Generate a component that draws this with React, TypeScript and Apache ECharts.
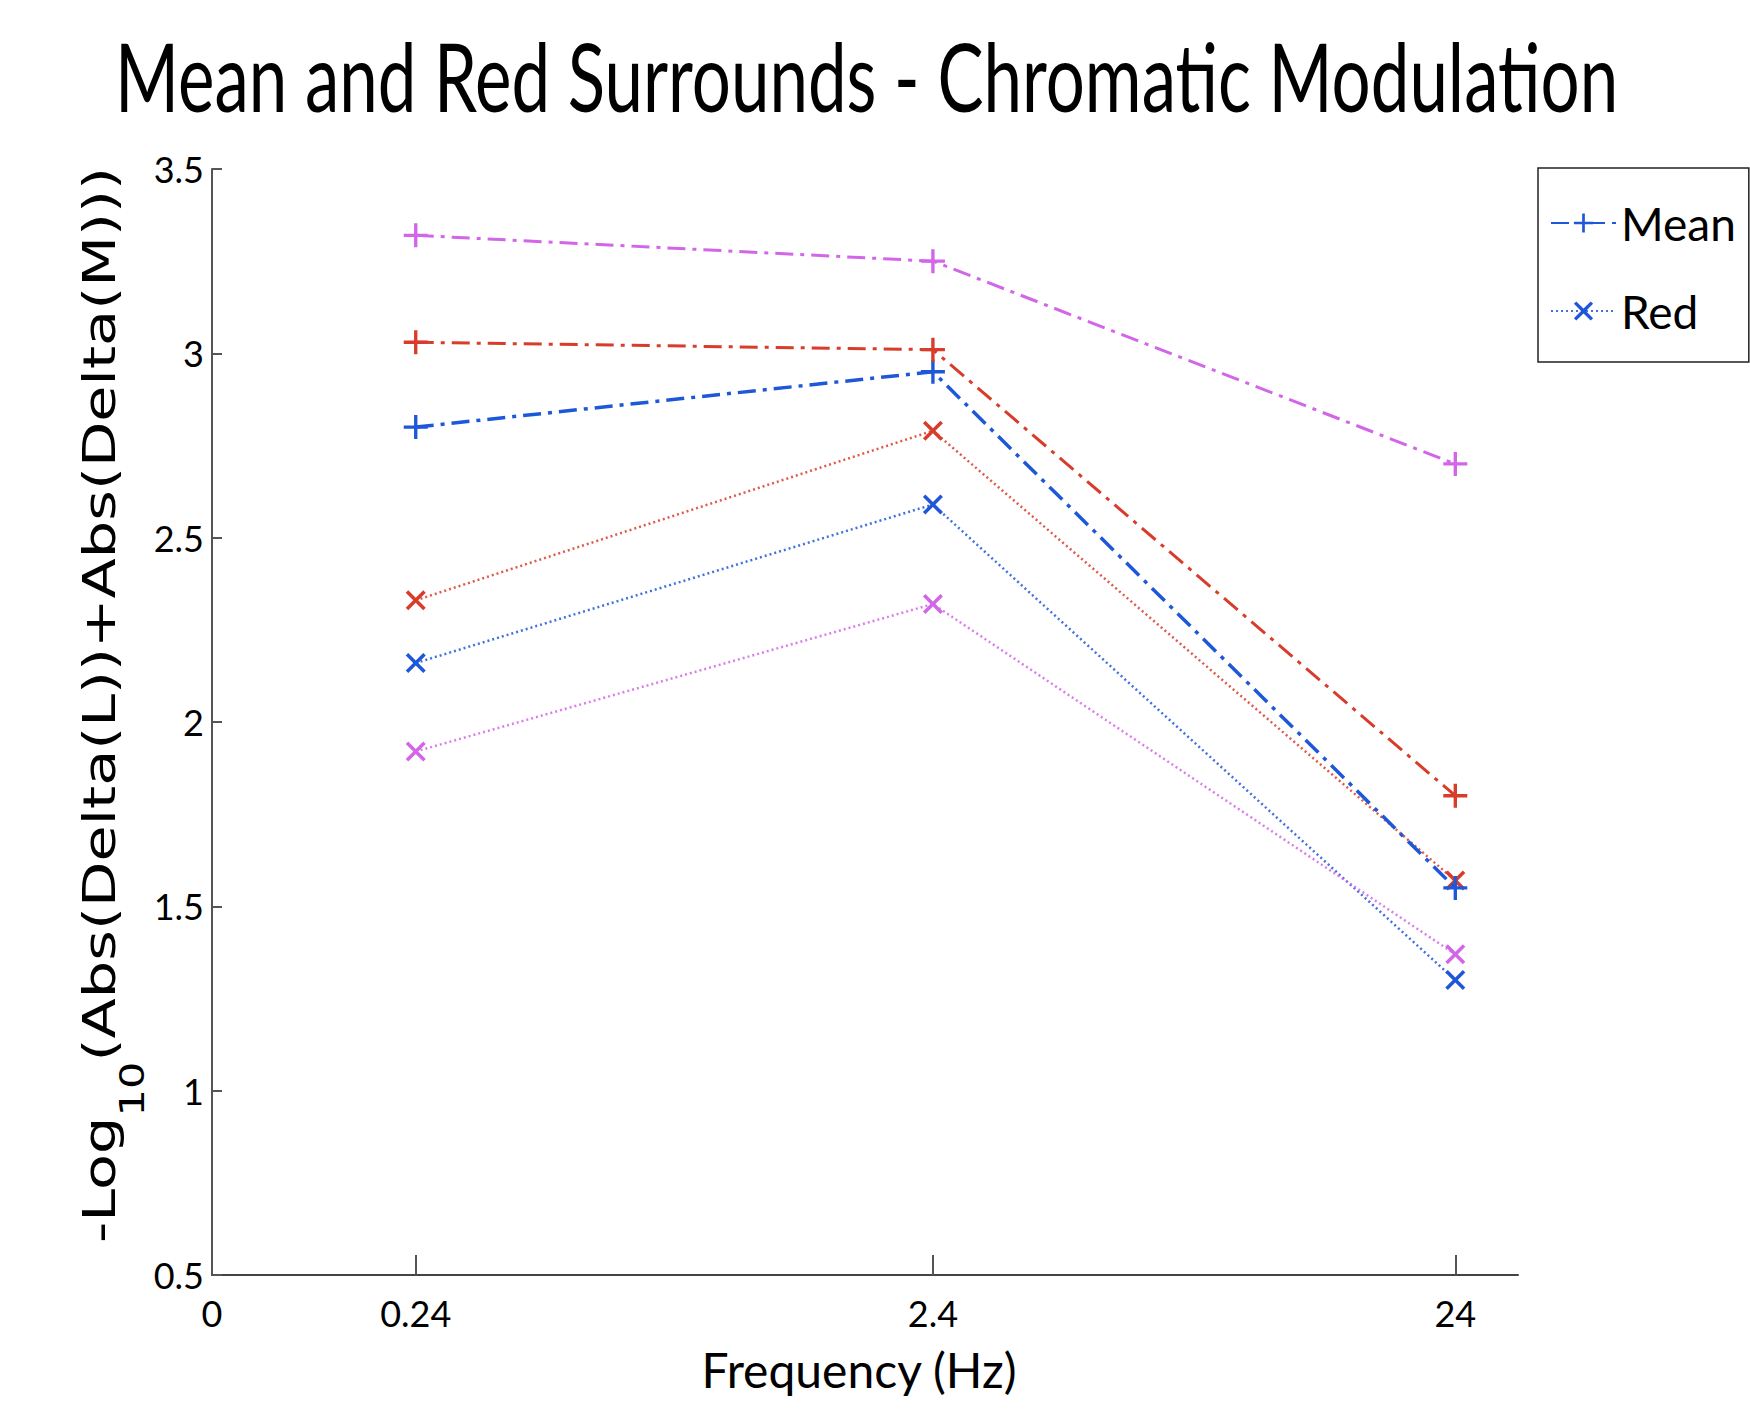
import React, { useEffect, useRef } from "react";
import * as echarts from "echarts";

const titleText = "Mean and Red Surrounds - Chromatic Modulation";
const xName = "Frequency (Hz)";
const yName = "{m|-Log}{sub|10}{m|(Abs(Delta(L))+Abs(Delta(M)))}";

const categories = ["0.24", "2.4", "24"];
const xPositions = [0.39, 1.38, 2.38];
const originLabel = "0";

const meanBlue = [2.8, 2.95, 1.55];
const redBlue = [2.16, 2.59, 1.3];
const meanRed = [3.03, 3.01, 1.8];
const redRed = [2.33, 2.79, 1.57];
const meanMagenta = [3.32, 3.25, 2.7];
const redMagenta = [1.92, 2.32, 1.37];

const BLUE = "#1e58d8";
const RED = "#d83c2a";
const MAGENTA = "#d366e8";

const PLUS =
  "path://M-0.14,-1 L0.14,-1 L0.14,-0.14 L1,-0.14 L1,0.14 L0.14,0.14 L0.14,1 L-0.14,1 L-0.14,0.14 L-1,0.14 L-1,-0.14 L-0.14,-0.14 Z";
const CROSS =
  "path://M-1,-0.75 L-0.75,-1 L0,-0.25 L0.75,-1 L1,-0.75 L0.25,0 L1,0.75 L0.75,1 L0,0.25 L-0.75,1 L-1,0.75 L-0.25,0 Z";

function pairs(vals: number[]) {
  return vals.map((v, i) => [xPositions[i], v]);
}

function plusSeries(name: string, vals: number[], color: string, width: number) {
  return {
    name,
    type: "line",
    data: pairs(vals),
    symbol: PLUS,
    symbolSize: 24,
    itemStyle: { color },
    lineStyle: { color, width, type: [18, 7, 4, 7] },
    z: 3,
  };
}

function crossSeries(name: string, vals: number[], color: string) {
  return {
    name,
    type: "line",
    data: pairs(vals),
    symbol: CROSS,
    symbolSize: 20,
    itemStyle: { color },
    lineStyle: { color, width: 2.5, type: [2, 3], opacity: 0.85 },
    z: 2,
  };
}

export default function App() {
  const ref = useRef<HTMLDivElement>(null);
  useEffect(() => {
    document.body.style.margin = "0";
    if (!ref.current) return;
    const chart = echarts.init(ref.current, undefined, { renderer: "svg" });
    const labelFor = (v: number) => {
      if (Math.abs(v) < 1e-6) return originLabel;
      let best = 0;
      xPositions.forEach((p, i) => {
        if (Math.abs(p - v) < Math.abs(xPositions[best] - v)) best = i;
      });
      return categories[best];
    };
    chart.setOption({
      animation: false,
      backgroundColor: "#fff",
      grid: { left: 212, top: 169, width: 1306, height: 1106 },
      legend: {
        data: ["Mean", "Red"],
        orient: "vertical",
        left: 1538,
        top: 168,
        padding: [30, 13, 26, 12],
        itemGap: 38,
        itemWidth: 65,
        itemHeight: 24,
        borderColor: "#222",
        borderWidth: 1.5,
        borderRadius: 0,
        backgroundColor: "#fff",
        selectedMode: false,
        textStyle: { fontFamily: "Lato", fontSize: 46, color: "#000", lineHeight: 50 },
      },
      xAxis: {
        type: "value",
        min: 0,
        max: 2.5,
        name: xName,
        nameLocation: "middle",
        nameGap: 70,
        nameTextStyle: { fontFamily: "Lato", fontSize: 48, color: "#000", padding: [0, 12, 0, 0] },
        axisLine: { show: true, lineStyle: { color: "#444", width: 2 } },
        axisTick: {
          show: true,
          inside: true,
          length: 20,
          customValues: xPositions,
          lineStyle: { color: "#555", width: 2 },
        },
        axisLabel: {
          customValues: [0, ...xPositions],
          formatter: (v: number) => labelFor(v),
          fontFamily: "Lato",
          fontSize: 36,
          color: "#000",
          margin: 20,
        },
        splitLine: { show: false },
      },
      yAxis: {
        type: "value",
        min: 0.5,
        max: 3.5,
        interval: 0.5,
        axisLine: { show: true, lineStyle: { color: "#555", width: 2 } },
        axisTick: { show: true, inside: true, length: 10, lineStyle: { color: "#555", width: 2 } },
        axisLabel: { fontFamily: "Lato", fontSize: 36, color: "#000", margin: 8 },
        splitLine: { show: false },
      },
      graphic: [
        {
          type: "text",
          x: 115,
          y: 75,
          scaleX: 0.986,
          scaleY: 1.35,
          style: {
            text: titleText,
            fontFamily: "Lato",
            fontSize: 70,
            fill: "#000",
            align: "left",
            verticalAlign: "middle",
            textAlign: "left",
            textVerticalAlign: "middle",
          },
        },
        {
          type: "text",
          x: 113,
          y: 705,
          rotation: Math.PI / 2,
          scaleX: 1.31,
          scaleY: 1,
          style: {
            text: yName,
            fontFamily: "DejaVu Sans",
            fontSize: 45,
            fill: "#000",
            align: "center",
            verticalAlign: "middle",
            textAlign: "center",
            textVerticalAlign: "middle",
            rich: {
              m: { fontFamily: "DejaVu Sans", fontSize: 45, fill: "#000", verticalAlign: "top", lineHeight: 72 },
              sub: { fontFamily: "DejaVu Sans", fontSize: 33, fill: "#000", verticalAlign: "bottom", lineHeight: 33 },
            },
          },
        },
      ],
      series: [
        plusSeries("Mean", meanBlue, BLUE, 3.5),
        crossSeries("Red", redBlue, BLUE),
        plusSeries("Mean (red trace)", meanRed, RED, 3),
        crossSeries("Red (red trace)", redRed, RED),
        plusSeries("Mean (magenta trace)", meanMagenta, MAGENTA, 3),
        crossSeries("Red (magenta trace)", redMagenta, MAGENTA),
      ],
    });
    return () => chart.dispose();
  }, []);
  return <div ref={ref} style={{ width: 1750, height: 1411 }} />;
}
